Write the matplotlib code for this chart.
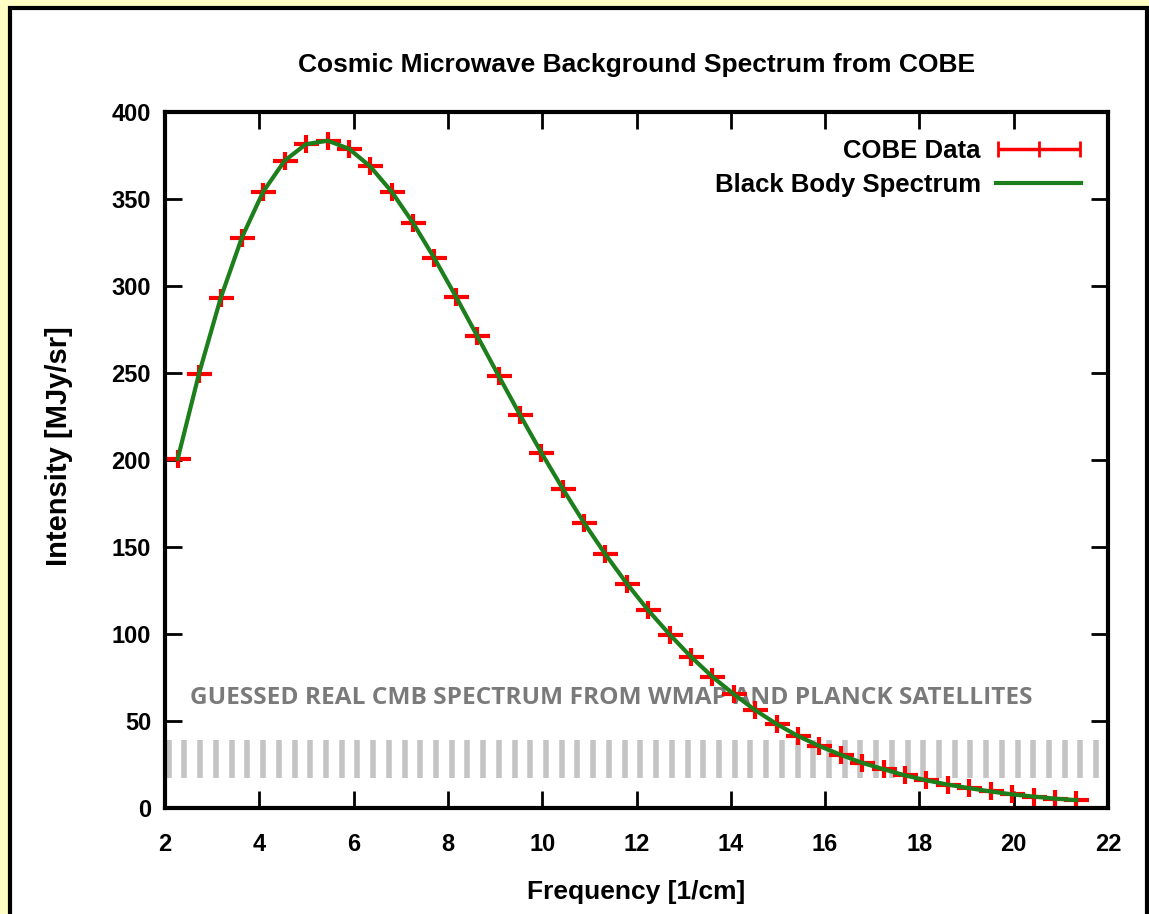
import numpy as np
import matplotlib
matplotlib.use('Agg')
import matplotlib.pyplot as plt
from matplotlib.patches import Rectangle
from matplotlib.container import ErrorbarContainer
from matplotlib.legend_handler import HandlerErrorbar

# COBE FIRAS points
freq = [2.27, 2.72, 3.18, 3.63, 4.08, 4.54, 4.99, 5.45, 5.90, 6.35, 6.81,
        7.26, 7.71, 8.17, 8.62, 9.08, 9.53, 9.98, 10.44, 10.89, 11.34, 11.80,
        12.25, 12.71, 13.16, 13.61, 14.07, 14.52, 14.97, 15.43, 15.88, 16.34,
        16.79, 17.24, 17.70, 18.15, 18.61, 19.06, 19.51, 19.97, 20.42, 20.87,
        21.33]
intensity = [200.7, 249.5, 293.0, 327.8, 354.1, 372.1, 381.5, 383.5, 378.9,
             368.8, 354.1, 336.3, 316.1, 293.9, 271.4, 248.2, 225.9, 204.3,
             183.3, 163.8, 145.8, 128.8, 113.6, 99.5, 86.8, 75.4, 65.3, 56.2,
             48.3, 41.3, 35.6, 30.5, 25.9, 22.3, 18.7, 15.9, 13.4, 11.4, 9.5,
             7.8, 6.6, 5.4, 4.5]
# black body curve follows the same points
bb_freq = freq
bb_intensity = intensity

x_ticks = [2, 4, 6, 8, 10, 12, 14, 16, 18, 20, 22]
y_ticks = [0, 50, 100, 150, 200, 250, 300, 350, 400]

plt.rcParams['font.family'] = ['Liberation Sans', 'DejaVu Sans']
plt.rcParams['font.weight'] = 'bold'

fig = plt.figure(figsize=(11.49, 9.14), dpi=100)
fig.patch.set_facecolor('#fffdc4')

# white panel with black border
frame = Rectangle((10 / 1149, -0.05), 1137 / 1149, 0.05 + 906 / 914,
                  transform=fig.transFigure, facecolor='white',
                  edgecolor='black', linewidth=3, zorder=-5)
fig.patches.append(frame)

ax = fig.add_axes([165 / 1149, 106 / 914, 943 / 1149, 696 / 914])
ax.set_facecolor('none')
ax.set_zorder(2)

# grey stripe band
stripes = np.linspace(2.08, 21.75, 60)
ax.vlines(stripes, 17.2, 39, colors='#c4c4c4', linewidth=4, zorder=1)
ax.text(2.53, 63, 'GUESSED REAL CMB SPECTRUM FROM WMAP AND PLANCK SATELLITES',
        family=['Open Sans', 'DejaVu Sans'], fontweight='bold', fontsize=17.6,
        color='#7a7a7a', va='center', ha='left', zorder=1.5)

# wide flat crosses: horizontal + vertical strokes
ax.plot(freq, intensity, linestyle='none', marker='_', color='red',
        markersize=18, markeredgewidth=3, zorder=2.5)
ax.plot(freq, intensity, linestyle='none', marker='|', color='red',
        markersize=13, markeredgewidth=3, zorder=2.5)
bb_line, = ax.plot(bb_freq, bb_intensity, color='#1c7f1c', linewidth=3,
                   zorder=3)

# legend proxy shaped like gnuplot's errorbar key
proxy = ax.errorbar([np.nan], [np.nan], xerr=[1], fmt='+', color='red',
                    markersize=12, markeredgewidth=2, capsize=6,
                    elinewidth=2.5)
leg = ax.legend([proxy, bb_line], ['COBE Data', 'Black Body Spectrum'],
                loc='upper right', frameon=False, markerfirst=False,
                fontsize=18.5, handlelength=3.3, handletextpad=0.6,
                borderaxespad=0.65, labelspacing=0.38,
                handler_map={ErrorbarContainer: HandlerErrorbar(xerr_size=1.6)})

ax.set_xlim(2, 22)
ax.set_ylim(0, 400)
ax.set_xticks(x_ticks)
ax.set_yticks(y_ticks)
ax.tick_params(direction='in', length=12, width=2, top=True, right=True,
               labelsize=17)
ax.tick_params(axis='x', pad=18)
ax.tick_params(axis='y', pad=10)
for s in ax.spines.values():
    s.set_linewidth(3)

ax.set_title('Cosmic Microwave Background Spectrum from COBE', fontsize=19,
             fontweight='bold', pad=29)
ax.set_xlabel('Frequency [1/cm]', fontsize=19, fontweight='bold', labelpad=17)
ax.set_ylabel('Intensity [MJy/sr]', fontsize=21, fontweight='bold')
ax.yaxis.set_label_coords(-0.098, 0.52)

fig.savefig('out.png', dpi=100)
